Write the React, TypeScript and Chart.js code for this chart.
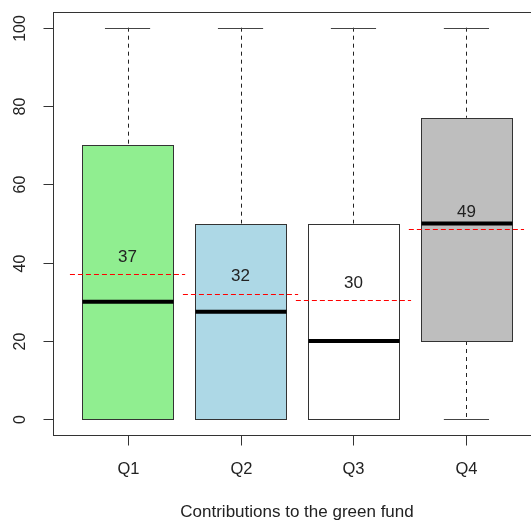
import React, { useEffect, useRef } from "react";
import { Chart, registerables } from "chart.js";

Chart.register(...registerables);

const categories = ["Q1", "Q2", "Q3", "Q4"];
const whiskerLow = [0, 0, 0, 0];
const boxLow = [0, 0, 0, 20];
const medians = [30, 27.5, 20, 50];
const boxHigh = [70, 50, 50, 77];
const whiskerHigh = [100, 100, 100, 100];
const means = [37.1, 32.1, 30.4, 48.5];
const meanLabels = ["37", "32", "30", "49"];
const fillColors = ["#90EE90", "#ADD8E6", "#FFFFFF", "#BEBEBE"];
const yTicks = [0, 20, 40, 60, 80, 100];
const xTitle = "Contributions to the green fund";

const FAMILY = '"Liberation Sans", Arial, sans-serif';
const INK = "#222222";
const BOX_HALF = 0.4;
const CAP_HALF = 0.2;
const MEAN_HALF = 0.51;

const boxPlugin = {
  id: "boxplotDraw",
  afterDatasetsDraw(chart: any) {
    const ctx = chart.ctx;
    const x = chart.scales.x;
    const y = chart.scales.y;
    const ca = chart.chartArea;
    ctx.save();
    ctx.lineWidth = 1;
    categories.forEach((_, i) => {
      const px = Math.round(x.getPixelForValue(i + 1)) + 0.5;
      ctx.strokeStyle = INK;
      ctx.setLineDash([4, 4]);
      if (whiskerHigh[i] > boxHigh[i]) {
        ctx.beginPath();
        ctx.moveTo(px, y.getPixelForValue(whiskerHigh[i]));
        ctx.lineTo(px, y.getPixelForValue(boxHigh[i]));
        ctx.stroke();
      }
      if (whiskerLow[i] < boxLow[i]) {
        ctx.beginPath();
        ctx.moveTo(px, y.getPixelForValue(boxLow[i]));
        ctx.lineTo(px, y.getPixelForValue(whiskerLow[i]));
        ctx.stroke();
      }
      ctx.setLineDash([]);
      const capL = x.getPixelForValue(i + 1 - CAP_HALF);
      const capR = x.getPixelForValue(i + 1 + CAP_HALF);
      ctx.strokeStyle = "#444444";
      [whiskerHigh[i], whiskerLow[i]].forEach((v) => {
        const py = Math.round(y.getPixelForValue(v)) + 0.5;
        ctx.beginPath();
        ctx.moveTo(capL, py);
        ctx.lineTo(capR, py);
        ctx.stroke();
      });
      const bl = Math.round(x.getPixelForValue(i + 1 - BOX_HALF)) + 0.5;
      const br = Math.round(x.getPixelForValue(i + 1 + BOX_HALF)) + 0.5;
      const bt = Math.round(y.getPixelForValue(boxHigh[i])) + 0.5;
      const bb = Math.round(y.getPixelForValue(boxLow[i])) + 0.5;
      ctx.fillStyle = fillColors[i];
      ctx.fillRect(bl, bt, br - bl, bb - bt);
      ctx.strokeStyle = "#333333";
      ctx.strokeRect(bl, bt, br - bl, bb - bt);
      ctx.strokeStyle = "#000000";
      ctx.lineWidth = 4;
      const my = y.getPixelForValue(medians[i]);
      ctx.beginPath();
      ctx.moveTo(bl, my);
      ctx.lineTo(br, my);
      ctx.stroke();
      ctx.lineWidth = 1;
    });
    ctx.strokeStyle = "#FF0000";
    ctx.lineWidth = 1;
    ctx.setLineDash([5, 3]);
    categories.forEach((_, i) => {
      const py = Math.round(y.getPixelForValue(means[i])) + 0.5;
      ctx.beginPath();
      ctx.moveTo(x.getPixelForValue(i + 1 - MEAN_HALF), py);
      ctx.lineTo(x.getPixelForValue(i + 1 + MEAN_HALF), py);
      ctx.stroke();
    });
    ctx.setLineDash([]);
    ctx.fillStyle = INK;
    ctx.font = "17px " + FAMILY;
    ctx.textAlign = "center";
    ctx.textBaseline = "middle";
    categories.forEach((_, i) => {
      ctx.fillText(meanLabels[i], x.getPixelForValue(i + 1), y.getPixelForValue(means[i] + 4.3));
    });
    ctx.strokeStyle = "#333333";
    ctx.lineWidth = 1;
    ctx.strokeRect(Math.round(ca.left) + 0.5, Math.round(ca.top) + 0.5, ca.right - ca.left, ca.bottom - ca.top);
    const axL = Math.round(ca.left) + 0.5;
    yTicks.forEach((v) => {
      const py = Math.round(y.getPixelForValue(v)) + 0.5;
      ctx.strokeStyle = "#333333";
      ctx.beginPath();
      ctx.moveTo(axL - 10, py);
      ctx.lineTo(axL, py);
      ctx.stroke();
      ctx.save();
      ctx.translate(ca.left - 32, py);
      ctx.rotate(-Math.PI / 2);
      ctx.fillStyle = INK;
      ctx.font = "16px " + FAMILY;
      ctx.textAlign = "center";
      ctx.textBaseline = "middle";
      ctx.fillText(String(v), 0, 0);
      ctx.restore();
    });
    const axB = Math.round(ca.bottom) + 0.5;
    categories.forEach((c, i) => {
      const px = Math.round(x.getPixelForValue(i + 1)) + 0.5;
      ctx.strokeStyle = "#333333";
      ctx.beginPath();
      ctx.moveTo(px, axB);
      ctx.lineTo(px, axB + 10);
      ctx.stroke();
      ctx.fillStyle = INK;
      ctx.font = "16.5px " + FAMILY;
      ctx.textAlign = "center";
      ctx.textBaseline = "middle";
      ctx.fillText(c, px, ca.bottom + 34);
    });
    ctx.fillStyle = INK;
    ctx.font = "17px " + FAMILY;
    ctx.fillText(xTitle, (ca.left + ca.right) / 2, ca.bottom + 77);
    ctx.restore();
  },
};

export default function App() {
  const ref = useRef<HTMLCanvasElement | null>(null);
  useEffect(() => {
    if (!ref.current) return;
    const chart = new Chart(ref.current, {
      type: "scatter",
      data: {
        datasets: [
          {
            data: categories.map((_, i) => ({ x: i + 1, y: medians[i] })),
            pointRadius: 0,
            showLine: false,
          },
        ],
      },
      options: {
        animation: false,
        responsive: false,
        devicePixelRatio: 1,
        layout: { padding: { left: 53, top: 12, right: 19, bottom: 85 } },
        plugins: { legend: { display: false }, tooltip: { enabled: false } },
        scales: {
          x: { type: "linear", min: 0.34, max: 4.66, display: false },
          y: { type: "linear", min: -4, max: 104, display: false },
        },
      },
      plugins: [boxPlugin],
    });
    return () => chart.destroy();
  }, []);
  return (
    <div style={{ position: "fixed", left: 0, top: 0, width: 531, height: 520, overflow: "hidden", background: "#fff" }}>
      <canvas ref={ref} width={560} height={520} style={{ display: "block" }} />
    </div>
  );
}
